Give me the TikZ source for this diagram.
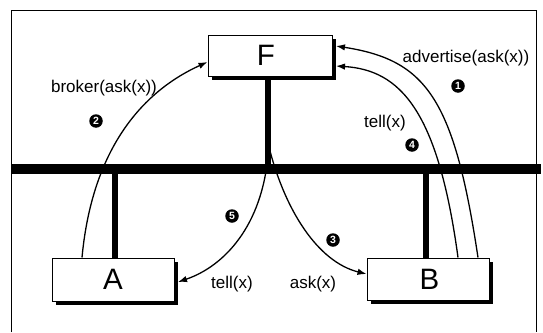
\documentclass[tikz,border=0pt]{standalone}
\usepackage{fontspec}
\setmainfont{Liberation Sans}
\usetikzlibrary{arrows.meta,shadows}
\begin{document}
\begin{tikzpicture}[x=1pt,y=-1pt,
  box/.style={draw, line width=1pt, fill=white, inner sep=0pt,
    drop shadow={fill=black, opacity=1, shadow xshift=3.5pt, shadow yshift=-3.5pt},
    font=\fontsize{29.5}{30}\selectfont},
  lbl/.style={inner sep=0pt, font=\fontsize{17}{17}\selectfont},
  num/.style={circle, fill=black, text=white, inner sep=0pt, minimum size=13.5pt,
    font=\bfseries\fontsize{10.5}{10.5}\selectfont},
  arc/.style={line width=1.3pt, -{Latex[length=9pt,width=6.5pt]}},
  stem/.style={line width=5.5pt},
  bus/.style={line width=10pt},
  frame/.style={line width=1pt}]
\useasboundingbox (0,0) rectangle (543,332);
% frame
\draw[frame] (11,332) -- (11,10) -- (536,10) -- (536,332);
% boxes
\node[box, minimum width=124pt, minimum height=41pt, text depth=0pt] (F) at (270,55.5) {\hspace*{-8pt}F};
\node[box, minimum width=122pt, minimum height=43pt] (A) at (113,279.5) {A};
\node[box, minimum width=122pt, minimum height=42pt] (B) at (428,279) {\hspace*{3pt}B};
% helper coordinates
\coordinate (busL) at (11,169);
\coordinate (busR) at (541,169);
\coordinate (fx) at (268,169);
\coordinate (ax) at (115,169);
\coordinate (bx) at (426,169);
\coordinate (x82) at (82,0);
\coordinate (x458) at (458,0);
\coordinate (x478) at (478,0);
\coordinate (y62) at (0,62);
\coordinate (y46) at (0,46);
\coordinate (y66) at (0,66);
\coordinate (y274) at (0,274);
\coordinate (y282) at (0,282);
\coordinate (s3) at (268,143);
\coordinate (s5) at (268,155);
% bus and stems
\draw[bus] (busL) -- (busR);
\draw[stem] (F.south -| fx) -- (fx);
\draw[stem] (A.north -| ax) -- (ax);
\draw[stem] (B.north -| bx) -- (bx);
% arcs
\draw[arc] (A.north -| x82) .. controls (93,140) and (150,88) .. (F.west |- y62);
\draw[arc] (B.north -| x478) .. controls (454,98) and (426,60) .. ([xshift=3.5pt]F.east |- y46);
\draw[arc] (B.north -| x458) .. controls (438,110) and (400,70) .. ([xshift=3.5pt]F.east |- y66);
\draw[arc] (s3) .. controls (284,210) and (318,262) .. (B.west |- y274);
\draw[arc] (s5) .. controls (262,225) and (225,266) .. ([xshift=3.5pt]A.east |- y282);
% labels
\node[lbl] (l2) at (104,88) {broker(ask(x))};
\node[num] (n2) at (96,121) {2};
\node[lbl] (l1) at (466,58) {advertise(ask(x))};
\node[num] (n1) at (458,86) {1};
\node[lbl] (l4) at (385,123) {tell(x)};
\node[num] (n4) at (412,145) {4};
\node[num] (n5) at (232,216) {5};
\node[num] (n3) at (333,240) {3};
\node[lbl] (l5) at (232,284) {tell(x)};
\node[lbl] (l3) at (313,284) {ask(x)};
\end{tikzpicture}
\end{document}
